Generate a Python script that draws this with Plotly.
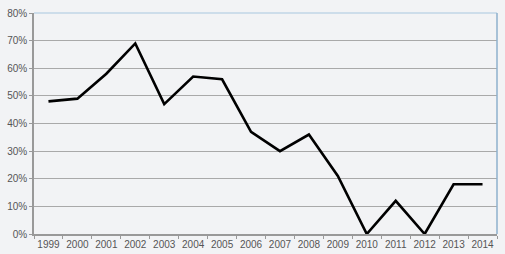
import plotly.graph_objects as go

years = ["1999", "2000", "2001", "2002", "2003", "2004", "2005", "2006",
         "2007", "2008", "2009", "2010", "2011", "2012", "2013", "2014"]
values = [48, 49, 58, 69, 47, 57, 56, 37, 30, 36, 21, 0, 12, 0, 18, 18]
y_ticks = [0, 10, 20, 30, 40, 50, 60, 70, 80]
y_tick_labels = [f"{v}%" for v in y_ticks]

bg = "#f2f3f5"
fig = go.Figure()
fig.add_trace(go.Scatter(
    x=years, y=values, mode="lines",
    line=dict(color="#000000", width=2.6),
    hoverinfo="skip", showlegend=False, cliponaxis=False,
))

fig.update_layout(
    width=505, height=254,
    margin=dict(l=34, r=8, t=13, b=20, autoexpand=False),
    paper_bgcolor=bg, plot_bgcolor=bg,
    font=dict(family="Liberation Sans, Arial, sans-serif", size=10, color="#555555"),
    showlegend=False,
)
fig.update_xaxes(
    type="category", tickson="boundaries", range=[-0.5, 15.5],
    tickangle=0, automargin=False,
    ticks="outside", ticklen=3, tickcolor="#999999",
    showgrid=False, showline=True, linecolor="#999999", linewidth=1.5,
    tickfont=dict(size=10, color="#555555"), zeroline=False,
)
fig.update_yaxes(
    range=[0, 80], tickvals=y_ticks, ticktext=y_tick_labels, automargin=False,
    ticks="outside", ticklen=3, tickcolor="#999999",
    showgrid=True, gridcolor="#a9a9a9", gridwidth=1,
    showline=True, linecolor="#999999", linewidth=1.5,
    zeroline=False, tickfont=dict(size=10, color="#555555"),
)
# top and right border in blue
fig.add_shape(type="line", xref="paper", yref="paper", x0=0, x1=1, y0=1, y1=1,
              line=dict(color="#a8c8e0", width=1.2), layer="above")
fig.add_shape(type="line", xref="paper", yref="paper", x0=1, x1=1, y0=0, y1=1,
              line=dict(color="#8eb0cc", width=1.5), layer="above")

fig.write_html("out.html", config={"displayModeBar": False},
               post_script="document.body.style.margin='0';document.body.style.overflow='hidden';")
